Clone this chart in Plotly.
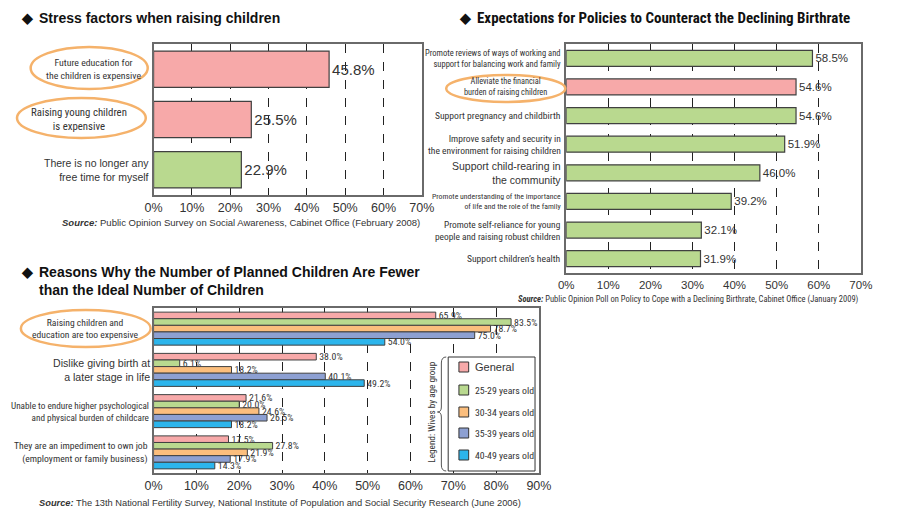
import plotly.graph_objects as go

W, H = 900, 524
OFF = 8  # page body margin in the viewer


def px(x):
    return (x - OFF) / W


def py(y):
    return 1 - (y - OFF) / H


FONT = "Liberation Sans, Arial, sans-serif"
NARROW = "Roboto Condensed, Liberation Sans, sans-serif"
TXT = "#333333"

PINK = "#F7A9A9"
GREEN = "#B9D98F"
ORANGE = "#FBBE7D"
SLATE = "#8DA0D2"
CYAN = "#2CB5EC"
EDGE = "#404040"
FRAME = "#6a6a6a"
ELLIPSE = "#F5B26B"

# ---------------- data ----------------
stress_cats = ["Future education", "Raising young children", "No free time"]
stress_vals = [45.8, 25.5, 22.9]
stress_colors = [PINK, PINK, GREEN]
stress_labels = [
    "Future education for<br>the children is expensive",
    "Raising young children<br>is expensive",
    "There is no longer any<br>free time for myself",
]

policy_cats = ["Work-life", "Financial", "Pregnancy", "Safety", "Community",
               "Family", "Self-reliance", "Health"]
policy_vals = [58.5, 54.6, 54.6, 51.9, 46.0, 39.2, 32.1, 31.9]
policy_colors = [GREEN, PINK, GREEN, GREEN, GREEN, GREEN, GREEN, GREEN]
policy_labels = [
    "Promote reviews of ways of working and<br>support for balancing work and family",
    "Alleviate the financial<br>burden of raising children",
    "Support pregnancy and childbirth",
    "Improve safety and security in<br>the environment for raising children",
    "Support child-rearing in<br>the community",
    "Promote understanding of the importance<br>of life and the role of the family",
    "Promote self-reliance for young<br>people and raising robust children",
    "Support children\u2019s health",
]

reason_cats = ["Expensive", "Later stage", "Burden", "Job"]
reason_labels = [
    "Raising children and<br>education are too expensive",
    "Dislike giving birth at<br>a later stage in life",
    "Unable to endure higher psychological<br>and physical burden of childcare",
    "They are an impediment to own job<br>(employment or family business)",
]
age_groups = ["General", "25-29 years old", "30-34 years old",
              "35-39 years old", "40-49 years old"]
age_colors = [PINK, GREEN, ORANGE, SLATE, CYAN]
general_vals = [65.9, 38.0, 21.6, 17.5]
age25_vals = [83.5, 6.1, 20.0, 27.8]
age30_vals = [78.7, 18.2, 24.6, 21.9]
age35_vals = [75.0, 40.1, 26.5, 17.9]
age40_vals = [54.0, 49.2, 18.2, 14.3]
age_series = [general_vals, age25_vals, age30_vals, age35_vals, age40_vals]

fig = go.Figure()

# ---------------- chart 1 ----------------
fig.add_trace(go.Bar(
    y=stress_cats, x=stress_vals, orientation="h", xaxis="x", yaxis="y",
    width=0.72,
    marker=dict(color=stress_colors, line=dict(color=EDGE, width=1.2)),
    text=[f"{v:.1f}%" for v in stress_vals], textposition="outside",
    textfont=dict(size=15, color=TXT, family=FONT), cliponaxis=False,
    constraintext="none", showlegend=False, hoverinfo="skip",
))

# ---------------- chart 2 ----------------
fig.add_trace(go.Bar(
    y=policy_cats, x=policy_vals, orientation="h", xaxis="x2", yaxis="y2",
    width=0.56,
    marker=dict(color=policy_colors, line=dict(color=EDGE, width=1.2)),
    text=[f"{v:.1f}%" for v in policy_vals], textposition="outside",
    textfont=dict(size=11.5, color=TXT, family=FONT), cliponaxis=False,
    constraintext="none", showlegend=False, hoverinfo="skip",
))

# ---------------- chart 3 ----------------
for name, vals, col in zip(age_groups, age_series, age_colors):
    fig.add_trace(go.Bar(
        y=reason_cats, x=vals, orientation="h", xaxis="x3", yaxis="y3",
        name=name,
        marker=dict(color=col, line=dict(color=EDGE, width=1)),
        text=[f"{v:.1f}%" for v in vals], textposition="outside",
        textfont=dict(size=9.8, color=TXT, family=NARROW), cliponaxis=False,
        constraintext="none", showlegend=False, hoverinfo="skip",
    ))


def xax(domain, rng, anchor, size):
    return dict(
        domain=domain, range=rng, anchor=anchor, dtick=10, ticksuffix="%",
        showgrid=True, gridcolor="#222222", griddash="dash", gridwidth=1,
        showline=True, mirror=True, linecolor=FRAME, linewidth=1.5,
        zeroline=False, ticks="", fixedrange=True,
        tickfont=dict(size=size, color=TXT, family=FONT),
    )


def yax(domain, cats, anchor):
    return dict(
        domain=domain, anchor=anchor, type="category",
        categoryorder="array", categoryarray=cats, autorange="reversed",
        showticklabels=False, showline=True, mirror=True, linecolor=FRAME,
        linewidth=1.5, showgrid=False, ticks="", fixedrange=True,
    )


annotations = []
shapes = []


def label(text, x, y, yref, anchor="right", size=11, family=FONT, align="right"):
    annotations.append(dict(
        text=text, x=px(x), xref="paper", y=y, yref=yref, xanchor=anchor,
        yanchor="middle", showarrow=False, align=align,
        font=dict(size=size, family=family, color=TXT),
    ))


def ptext(text, x, y, anchor="left", size=11, family=FONT, bold=False, angle=0,
          color="#111111"):
    annotations.append(dict(
        text=f"<b>{text}</b>" if bold else text, x=px(x), y=py(y), xref="paper",
        yref="paper", xanchor=anchor, yanchor="middle", showarrow=False,
        textangle=angle, font=dict(size=size, family=family, color=color),
    ))


def ellipse(x0, y0, x1, y1):
    shapes.append(dict(type="circle", xref="paper", yref="paper",
                       x0=px(x0), x1=px(x1), y0=py(y1), y1=py(y0),
                       line=dict(color=ELLIPSE, width=2.5), layer="above"))


# Titles
ptext("\u25c6", 10, 18, size=14, bold=True)
ptext("Stress factors when raising children", 28, 18, size=14, bold=True)
ptext("\u25c6", 459, 18, size=14, bold=True)
ptext("Expectations for Policies to Counteract the Declining Birthrate",
      477, 18, size=15, bold=True, family=NARROW)
ptext("\u25c6", 10, 272, size=14, bold=True)
ptext("Reasons Why the Number of Planned Children Are Fewer", 29, 272,
      size=14, bold=True)
ptext("than the Ideal Number of Children", 29, 290, size=14, bold=True)

# Sources
src = "<b><i>Source:</i></b> "
ptext(src + "Public Opinion Survey on Social Awareness, Cabinet Office (February 2008)",
      423, 222, anchor="right", size=9.5, color=TXT)
ptext(src + "Public Opinion Poll on Policy to Cope with a Declining Birthrate, "
      "Cabinet Office (January 2009)", 873, 299, anchor="right", size=8.5,
      family=NARROW, color=TXT)
ptext(src + "The 13th National Fertility Survey, National Institute of Population "
      "and Social Security Research (June 2006)", 28, 503, size=9.3, color=TXT)

# Chart 1 category labels
label(stress_labels[0], 86, stress_cats[0], "y", anchor="center", size=9.8,
      family=NARROW, align="center")
label(stress_labels[1], 72, stress_cats[1], "y", anchor="center", size=10.8,
      family=NARROW, align="center")
label(stress_labels[2], 145, stress_cats[2], "y", size=10.5)

# Chart 2 category labels
p_sizes = [8.5, 8.3, 9.6, 9.5, 10.5, 7.8, 9.4, 9.6]
p_fam = [NARROW, NARROW, NARROW, NARROW, FONT, NARROW, NARROW, NARROW]
for i, (c, t) in enumerate(zip(policy_cats, policy_labels)):
    if i == 1:
        label(t, 509, c, "y2", anchor="center", size=p_sizes[i], family=p_fam[i],
              align="center")
    else:
        label(t, 568, c, "y2", size=p_sizes[i], family=p_fam[i])

# Chart 3 category labels
label(reason_labels[0], 78, reason_cats[0], "y3", anchor="center", size=9.6,
      family=NARROW, align="center")
label(reason_labels[1], 146, reason_cats[1], "y3", size=10.6)
label(reason_labels[2], 145, reason_cats[2], "y3", size=9.2, family=NARROW)
label(reason_labels[3], 144, reason_cats[3], "y3", size=9.7, family=NARROW)

# Ellipses
ellipse(22, 47, 142, 89)
ellipse(8, 98, 140, 138)
ellipse(448, 75, 570, 102)
ellipse(12, 310, 145, 347)

# Custom legend for chart 3
shapes.append(dict(type="rect", xref="paper", yref="paper",
                   x0=px(450), x1=px(539), y0=py(471), y1=py(357),
                   fillcolor="white", line=dict(color="#333333", width=1),
                   layer="above"))
item_y = [367, 390, 412, 433, 455]
for name, col, yy in zip(age_groups, age_colors, item_y):
    shapes.append(dict(type="rect", xref="paper", yref="paper",
                       x0=px(461), x1=px(471), y0=py(yy + 5), y1=py(yy - 5),
                       fillcolor=col, line=dict(color="#333333", width=1),
                       layer="above"))
    if name == "General":
        ptext(name, 475, yy, size=11, color=TXT)
    else:
        ptext(name, 475, yy, size=9.8, family=NARROW, color=TXT)

ptext("Legend: Wives by age group", 432, 412, anchor="center", size=9.2,
      family=NARROW, angle=-90, color=TXT)

brace = (f"M {px(448)},{py(357)} Q {px(443)},{py(357)} {px(443)},{py(363)} "
         f"L {px(443)},{py(407)} Q {px(443)},{py(412)} {px(439)},{py(412)} "
         f"Q {px(443)},{py(412)} {px(443)},{py(417)} "
         f"L {px(443)},{py(465)} Q {px(443)},{py(471)} {px(448)},{py(471)}")
shapes.append(dict(type="path", xref="paper", yref="paper", path=brace,
                   line=dict(color="#555555", width=1), layer="above"))

fig.update_layout(
    width=W, height=H, margin=dict(l=0, r=0, t=0, b=0),
    paper_bgcolor="white", plot_bgcolor="white",
    font=dict(family=FONT, color=TXT),
    barmode="group", bargap=0.2, bargroupgap=0,
    showlegend=False,
    xaxis=xax([px(148), px(423)], [0, 70], "y", 12.5),
    yaxis=yax([py(195), py(44)], stress_cats, "x"),
    xaxis2=xax([px(571), px(873)], [0, 70], "y2", 11.5),
    yaxis2=yax([py(273), py(44)], policy_cats, "x2"),
    xaxis3=xax([px(148), px(543)], [0, 90], "y3", 12.5),
    yaxis3=yax([py(473), py(308)], reason_cats, "x3"),
    annotations=annotations,
    shapes=shapes,
)

fig.write_html("out.html")
